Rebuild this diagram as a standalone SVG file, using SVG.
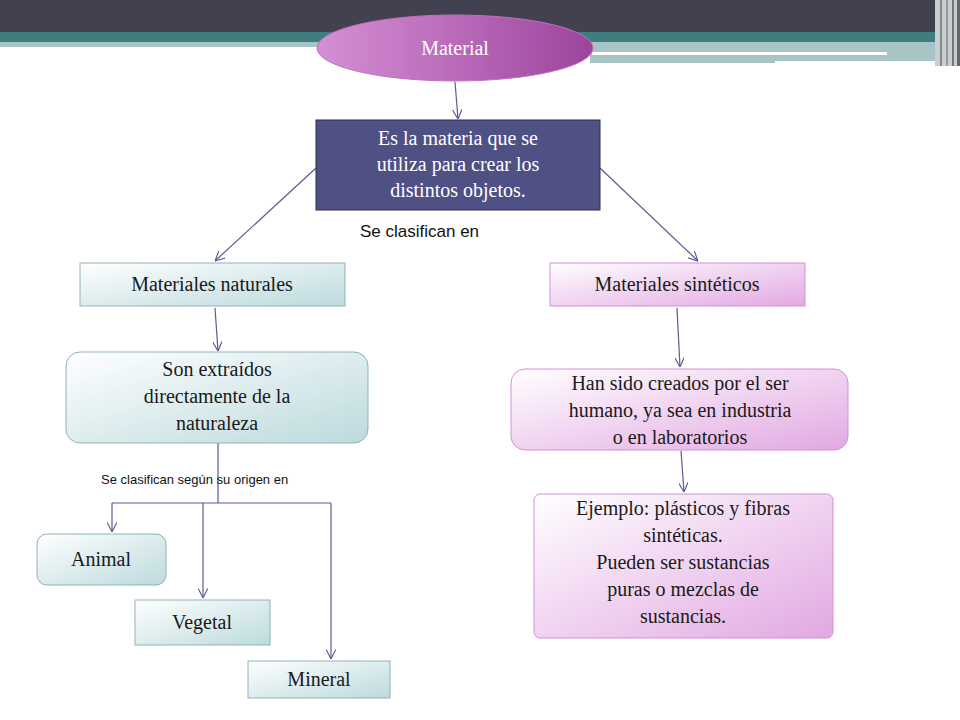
<svg xmlns="http://www.w3.org/2000/svg" width="960" height="720" viewBox="0 0 960 720">
<defs>
<linearGradient id="gEl" x1="0" y1="0" x2="1" y2="0"><stop offset="0" stop-color="#d590d5"/><stop offset="1" stop-color="#9c449c"/></linearGradient>
<linearGradient id="gT" x1="0" y1="0" x2="1" y2="1"><stop offset="0" stop-color="#ffffff"/><stop offset="1" stop-color="#bcdadd"/></linearGradient>
<linearGradient id="gP" x1="0" y1="0" x2="1" y2="1"><stop offset="0" stop-color="#ffffff"/><stop offset="1" stop-color="#e2a8e2"/></linearGradient>
<marker id="ar" viewBox="0 0 10 10" refX="10" refY="5" markerWidth="8" markerHeight="8" orient="auto"><path d="M0,0 L10,5 L0,10" fill="none" stroke="#5a5a94" stroke-width="1.2"/></marker>
</defs>
<style>
.t{stroke:#8fb3b8;stroke-width:1;fill:url(#gT)}
.p{stroke:#d490d4;stroke-width:1;fill:url(#gP)}
.s{font-family:"Liberation Serif","DejaVu Serif",serif;font-size:20px;fill:#1a1a1a;text-anchor:middle}
.c{fill:none;stroke:#5a5a94;stroke-width:1.2}
.a{font-family:"Liberation Sans",Arial,sans-serif;fill:#111}
</style>
<rect width="960" height="720" fill="#fff"/>
<g id="header">
<rect x="0" y="0" width="960" height="32" fill="#414150"/>
<rect x="0" y="32" width="935" height="10" fill="#3f7d7e"/>
<rect x="0" y="42" width="935" height="5" fill="#a9c4c6"/>
<rect x="590" y="47" width="345" height="16" fill="#a9c4c6"/>
<rect x="592" y="52" width="295" height="3" fill="#fff"/>
<rect x="775" y="61" width="160" height="4" fill="#fff"/>
<rect x="935" y="0" width="25" height="66" fill="#c8cfd0"/>
<rect x="940" y="0" width="2" height="66" fill="#888"/><rect x="946" y="0" width="2" height="66" fill="#999"/><rect x="952" y="0" width="2" height="66" fill="#777"/><rect x="957" y="0" width="3" height="66" fill="#666"/>
</g>
<g id="connectors">
<line class="c" x1="455" y1="82" x2="458" y2="119" marker-end="url(#ar)"/>
<line class="c" x1="316" y1="168" x2="215" y2="261" marker-end="url(#ar)"/>
<line class="c" x1="600" y1="168" x2="698" y2="261" marker-end="url(#ar)"/>
<line class="c" x1="215" y1="308" x2="218" y2="351" marker-end="url(#ar)"/>
<line class="c" x1="677" y1="308" x2="680" y2="367" marker-end="url(#ar)"/>
<line class="c" x1="681" y1="451" x2="684" y2="492" marker-end="url(#ar)"/>
<path class="c" d="M218,443 V503 M112,503 H331"/>
<line class="c" x1="112" y1="503" x2="112" y2="532" marker-end="url(#ar)"/>
<line class="c" x1="203" y1="503" x2="203" y2="598" marker-end="url(#ar)"/>
<line class="c" x1="331" y1="503" x2="331" y2="659" marker-end="url(#ar)"/>
</g>
<g id="n-material"><ellipse cx="455" cy="48" rx="138" ry="33" fill="url(#gEl)" stroke="#c070c0"/><text x="455" y="55" class="s" fill="#fff" style="fill:#fff">Material</text></g>
<g id="n-def"><rect x="316" y="120" width="284" height="90" fill="#4f5084" stroke="#2c2c44"/>
<text class="s" style="fill:#fff" x="458" y="145">Es la materia que se</text><text class="s" style="fill:#fff" x="458" y="171">utiliza para crear los</text><text class="s" style="fill:#fff" x="458" y="197">distintos objetos.</text></g>
<text class="a" x="360" y="237" font-size="17">Se clasifican en</text>
<g id="n-nat"><rect class="t" x="80" y="263" width="265" height="43"/><text class="s" x="212" y="291">Materiales naturales</text></g>
<g id="n-sin"><rect class="p" x="550" y="263" width="255" height="43"/><text class="s" x="677" y="291">Materiales sintéticos</text></g>
<g id="n-son"><rect class="t" x="66" y="352" width="302" height="91" rx="14"/><text class="s" x="217" y="376">Son extraídos</text><text class="s" x="217" y="403">directamente de la</text><text class="s" x="217" y="430">naturaleza</text></g>
<g id="n-han"><rect class="p" x="511" y="369" width="337" height="81" rx="14"/><text class="s" x="680" y="390">Han sido creados por el ser</text><text class="s" x="680" y="417">humano, ya sea en industria</text><text class="s" x="680" y="444">o en laboratorios</text></g>
<g id="n-ej"><rect class="p" x="534" y="494" width="299" height="144" rx="6"/>
<text class="s" x="683" y="515">Ejemplo: plásticos y fibras</text><text class="s" x="683" y="542">sintéticas.</text><text class="s" x="683" y="569">Pueden ser sustancias</text><text class="s" x="683" y="596">puras o mezclas de</text><text class="s" x="683" y="623">sustancias.</text></g>
<text class="a" x="101" y="484" font-size="13">Se clasifican según su origen en</text>
<g id="n-animal"><rect class="t" x="37" y="534" width="129" height="51" rx="10"/><text class="s" x="101" y="566">Animal</text></g>
<g id="n-vegetal"><rect class="t" x="135" y="600" width="135" height="45"/><text class="s" x="202" y="629">Vegetal</text></g>
<g id="n-mineral"><rect class="t" x="248" y="661" width="142" height="37"/><text class="s" x="319" y="686">Mineral</text></g>
</svg>
